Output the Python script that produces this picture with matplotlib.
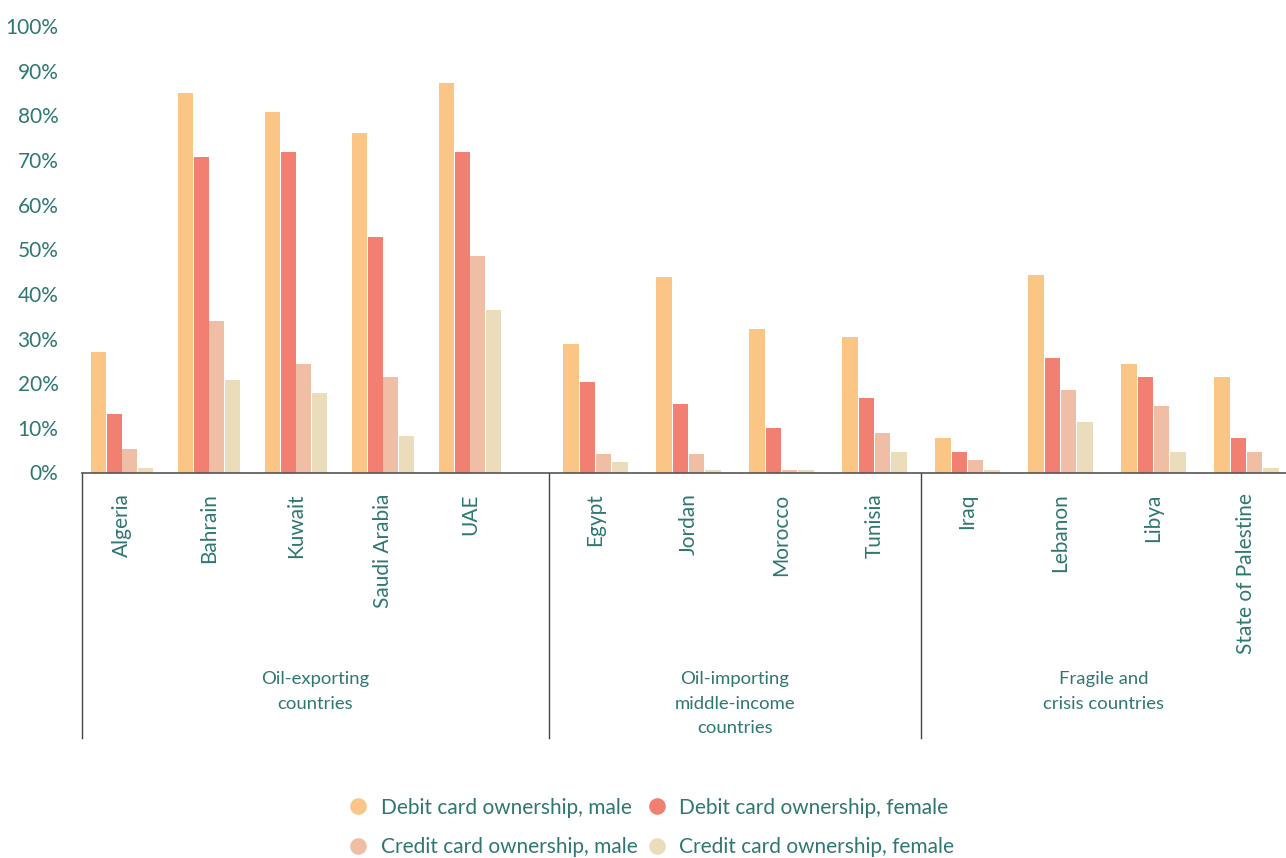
import numpy as np
import matplotlib.pyplot as plt
from matplotlib.lines import Line2D

# card ownership by country, % of adults
countries = ["Algeria", "Bahrain", "Kuwait", "Saudi Arabia", "UAE",
             "Egypt", "Jordan", "Morocco", "Tunisia",
             "Iraq", "Lebanon", "Libya", "State of Palestine"]
group_names = ["Oil-exporting\ncountries", "Oil-importing\nmiddle-income\ncountries",
               "Fragile and\ncrisis countries"]
group_sizes = [5, 4, 4]

debit_male = [27, 85, 80.8, 76, 87.3, 28.7, 43.7, 32.2, 30.4, 7.8, 44.2, 24.4, 21.5]
debit_female = [13.1, 70.7, 71.8, 52.7, 71.8, 20.3, 15.4, 10.0, 16.7, 4.6, 25.7, 21.5, 7.8]
credit_male = [5.3, 34.0, 24.4, 21.5, 48.4, 4.2, 4.2, 0.6, 8.9, 2.8, 18.5, 14.9, 4.6]
credit_female = [1.0, 20.8, 17.9, 8.2, 36.5, 2.4, 0.6, 0.6, 4.6, 0.6, 11.3, 4.6, 1.0]

series_labels = ["Debit card ownership, male", "Debit card ownership, female",
                 "Credit card ownership, male", "Credit card ownership, female"]
colors = ["#FBC585", "#F28072", "#EFBEA4", "#EBDCBC"]
teal = "#2F7772"

plt.rcParams['font.family'] = ['Lato', 'DejaVu Sans']

W, H = 1286, 858
fig = plt.figure(figsize=(W / 100, H / 100), dpi=100)
y0, y100 = 472.5, 26
ax = fig.add_axes([82 / W, (H - y0) / H, 1 - 82 / W, (y0 - y100) / H])

# x axis runs in pixel-like units; each group has its own slot width
group_edges = [82, 549, 921, 1286]
group_starts = [122, 595.5, 967.5]
group_steps = [87, 93, 93]
xs = []
for start, step, n in zip(group_starts, group_steps, group_sizes):
    xs += [start + step * i for i in range(n)]
xs = np.array(xs)
bw = np.array([15.5] * group_sizes[0] + [16.3] * (group_sizes[1] + group_sizes[2]))

values = [debit_male, debit_female, credit_male, credit_female]
for k, (vals, c) in enumerate(zip(values, colors)):
    ax.bar(xs + (k - 1.5) * bw, vals, width=bw - 0.8, color=c, linewidth=0)

ax.set_xlim(82, 1286)
ax.set_ylim(0, 100)
ax.set_yticks(np.arange(0, 101, 10))
ax.set_yticklabels([f"{v}%" for v in range(0, 101, 10)])
ax.tick_params(axis='y', length=0, pad=17, labelsize=15, labelcolor=teal)
ax.set_xticks([])
for s in ["top", "right", "left"]:
    ax.spines[s].set_visible(False)
ax.spines["bottom"].set_color("#555555")
ax.spines["bottom"].set_linewidth(1.2)

trans = ax.get_xaxis_transform()
for x in group_edges[:3]:
    ax.add_line(Line2D([x, x], [0, -0.594], transform=trans, color="#444444",
                       linewidth=1, clip_on=False))

for x, name in zip(xs, countries):
    ax.text(x, -0.047, name, transform=trans, rotation=90, ha="center", va="top",
            fontsize=15, color=teal)

for i, name in enumerate(group_names):
    mid = (group_edges[i] + group_edges[i + 1]) / 2
    ax.text(mid, -0.445, name, transform=trans, ha="center", va="top",
            fontsize=13.3, color=teal, linespacing=1.64)

# legend, two rows by two columns
handles = [Line2D([], [], marker="o", linestyle="none", markersize=12,
                  markerfacecolor=c, markeredgecolor="none") for c in colors]
order = [0, 2, 1, 3]
fig.legend([handles[i] for i in order], [series_labels[i] for i in order],
           loc="center", bbox_to_anchor=(650 / W, 1 - 827.5 / H), ncol=2,
           frameon=False, fontsize=15, labelcolor=teal, handletextpad=0.5,
           columnspacing=0.3, labelspacing=0.95, handlelength=1.2)

fig.savefig("out.png", dpi=100)
